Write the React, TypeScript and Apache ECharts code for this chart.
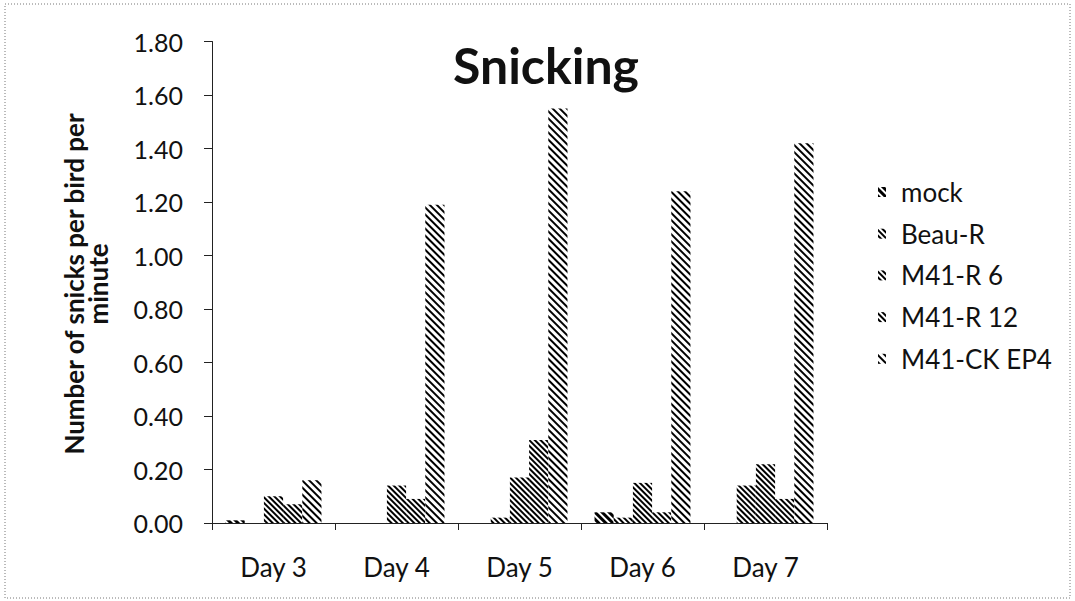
import React, { useEffect, useRef } from 'react';
import * as echarts from 'echarts';

const categories = ['Day 3', 'Day 4', 'Day 5', 'Day 6', 'Day 7'];
const seriesNames = ['mock', 'Beau-R', 'M41-R 6', 'M41-R 12', 'M41-CK EP4'];
const mockValues = [0.01, 0, 0, 0.04, 0];
const beauRValues = [0, 0, 0.02, 0.02, 0.14];
const m41r6Values = [0.10, 0.14, 0.17, 0.15, 0.22];
const m41r12Values = [0.07, 0.09, 0.31, 0.04, 0.09];
const ckValues = [0.16, 1.19, 1.55, 1.24, 1.42];
const yTicks = { min: 0, max: 1.8, interval: 0.2 };

const FONT = 'Lato';

export default function App() {
  const ref = useRef<HTMLDivElement>(null);
  useEffect(() => {
    if (!ref.current) return;
    const chart = echarts.init(ref.current, null, { renderer: 'svg' });
    const decal = (w: number, g: number) => ({
      symbol: 'rect',
      color: '#000',
      backgroundColor: '#fff',
      dashArrayX: [1, 0],
      dashArrayY: [w, g],
      rotation: Math.PI / 4,
      symbolSize: 1,
    });
    const decals = [decal(2.2, 1.1), decal(2.0, 1.3), decal(1.8, 1.5), decal(1.4, 1.9), decal(1.1, 2.2)];
    const values = [mockValues, beauRValues, m41r6Values, m41r12Values, ckValues];
    chart.setOption({
      animation: false,
      backgroundColor: '#fff',
      textStyle: { fontFamily: FONT, color: '#111' },
      grid: { left: 212, top: 41.5, right: 248, bottom: 78, containLabel: false },
      legend: {
        orient: 'vertical',
        left: 873,
        top: 174,
        icon: 'rect',
        itemWidth: 8,
        itemHeight: 10,
        itemGap: 15.7,
        data: seriesNames,
        textStyle: { fontFamily: FONT, fontSize: 26, color: '#111', padding: [0, 0, 0, 10] },
      },
      xAxis: {
        type: 'category',
        data: categories,
        axisLine: { lineStyle: { color: '#222', width: 1 } },
        axisTick: { show: true, length: 7, lineStyle: { color: '#222' } },
        axisLabel: { fontFamily: FONT, fontSize: 26, color: '#111', margin: 31 },
      },
      yAxis: {
        type: 'value',
        min: yTicks.min,
        max: yTicks.max,
        interval: yTicks.interval,
        axisLine: { show: true, lineStyle: { color: '#222', width: 1 } },
        axisTick: { show: true, length: 8, lineStyle: { color: '#222' } },
        splitLine: { show: false },
        axisLabel: {
          fontFamily: FONT,
          fontSize: 25,
          color: '#111',
          margin: 29,
          formatter: (v: number) => v.toFixed(2),
        },
      },
      graphic: [
        {
          type: 'rect',
          shape: { x: 5, y: 4, width: 1065, height: 594 },
          style: { fill: 'none', stroke: '#777', lineWidth: 1, lineDash: [1, 2] },
          silent: true,
        },
        {
          type: 'text',
          x: 546,
          y: 65,
          style: {
            text: 'Snicking',
            fontFamily: FONT,
            fontSize: 50,
            fontWeight: 'bold',
            fill: '#111',
            align: 'center',
            verticalAlign: 'middle',
          },
        },
        {
          type: 'text',
          x: 86,
          y: 284,
          rotation: Math.PI / 2,
          style: {
            text: 'Number of snicks per bird per\nminute',
            fontFamily: FONT,
            fontSize: 26,
            lineHeight: 24,
            fontWeight: 'bold',
            fill: '#111',
            align: 'center',
            verticalAlign: 'middle',
          },
        },
      ],
      series: seriesNames.map((name, i) => ({
        name,
        type: 'bar',
        data: values[i],
        barGap: '0%',
        barCategoryGap: '22%',
        itemStyle: { color: '#fff', decal: decals[i] },
      })),
    });
    return () => chart.dispose();
  }, []);
  return (
    <div
      ref={ref}
      style={{ position: 'absolute', left: 0, top: 0, width: 1075, height: 601 }}
    />
  );
}
